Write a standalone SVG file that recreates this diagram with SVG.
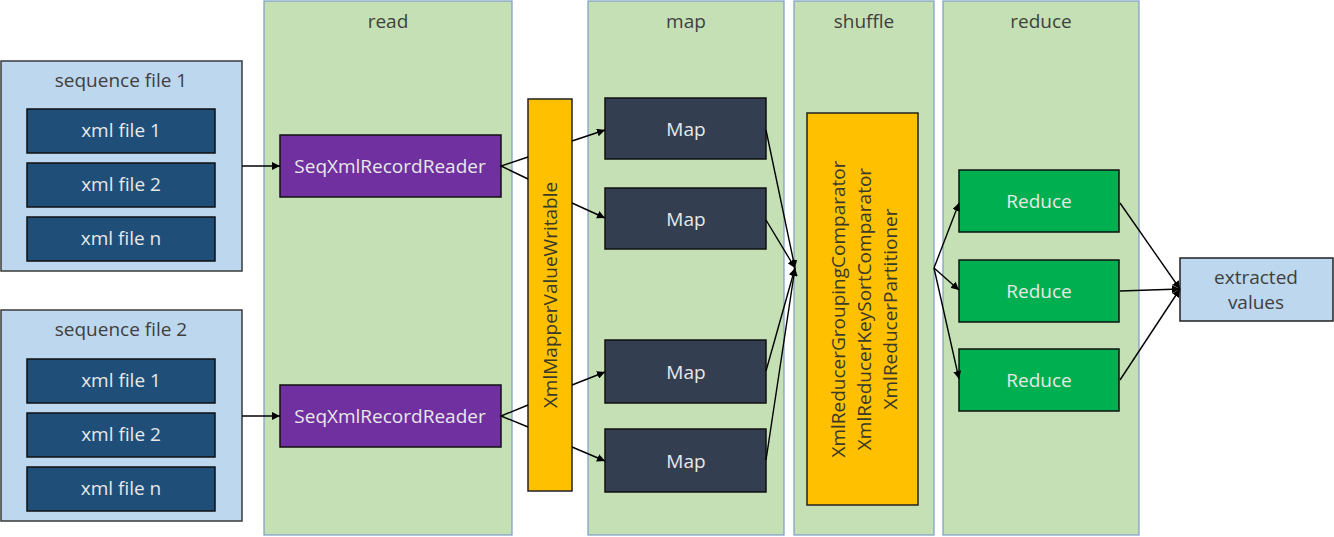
<svg xmlns="http://www.w3.org/2000/svg" width="1334" height="537" viewBox="0 0 1334 537">
<defs>
<style>
.col{fill:#c5e0b4;stroke:#7a9cc6;stroke-width:1.2}
.seq{fill:#bdd7ee;stroke:#3a3a3a;stroke-width:1.5}
.xml{fill:#1f4e79;stroke:#111;stroke-width:1.5}
.rdr{fill:#7030a0;stroke:#111;stroke-width:1.5}
.yel{fill:#ffc000;stroke:#222;stroke-width:1.5}
.map{fill:#333f50;stroke:#111;stroke-width:1.5}
.red{fill:#00b050;stroke:#111;stroke-width:1.5}
.ext{fill:#bdd7ee;stroke:#222;stroke-width:1.5}
text{font-family:"Open Sans","Noto Sans","DejaVu Sans",sans-serif;font-size:19px;text-anchor:middle;dominant-baseline:central}
.dk{fill:#404040}
.wt{fill:#e8e8e8}
.yt{fill:#3a3a2a}
.ln{stroke:#000;stroke-width:1.4;fill:none}
</style>
<marker id="ar" viewBox="0 0 10 10" refX="10" refY="5" markerWidth="8" markerHeight="8" markerUnits="userSpaceOnUse" orient="auto"><path d="M0,0L10,5L0,10z" fill="#000"/></marker>
</defs>
<rect width="1334" height="537" fill="#fff"/>
<g id="col-read"><rect class="col" x="264" y="1" width="248" height="534"/><text class="dk" x="388" y="21">read</text></g>
<g id="col-map"><rect class="col" x="588" y="1" width="196" height="534"/><text class="dk" x="686" y="21">map</text></g>
<g id="col-shuffle"><rect class="col" x="794" y="1" width="140" height="534"/><text class="dk" x="864" y="21">shuffle</text></g>
<g id="col-reduce"><rect class="col" x="943" y="1" width="196" height="534"/><text class="dk" x="1041" y="21">reduce</text></g>

<g id="seq1"><rect class="seq" x="1" y="61" width="241" height="210"/><text class="dk" x="121" y="80">sequence file 1</text>
<rect class="xml" x="27" y="109" width="188" height="44"/><text class="wt" x="121" y="130">xml file 1</text>
<rect class="xml" x="27" y="163" width="188" height="44"/><text class="wt" x="121" y="184">xml file 2</text>
<rect class="xml" x="27" y="217" width="188" height="44"/><text class="wt" x="121" y="238">xml file n</text></g>
<g id="seq2"><rect class="seq" x="1" y="310" width="241" height="211"/><text class="dk" x="121" y="329">sequence file 2</text>
<rect class="xml" x="27" y="359" width="188" height="44"/><text class="wt" x="121" y="380">xml file 1</text>
<rect class="xml" x="27" y="413" width="188" height="44"/><text class="wt" x="121" y="434">xml file 2</text>
<rect class="xml" x="27" y="467" width="188" height="44"/><text class="wt" x="121" y="488">xml file n</text></g>

<g id="reader1"><rect class="rdr" x="280" y="135" width="221" height="62"/><text class="wt" x="390" y="166">SeqXmlRecordReader</text></g>
<g id="reader2"><rect class="rdr" x="280" y="385" width="221" height="62"/><text class="wt" x="390" y="416">SeqXmlRecordReader</text></g>

<g id="writable"><rect class="yel" x="528" y="99" width="44" height="392"/><text class="yt" transform="translate(550,295) rotate(-90)">XmlMapperValueWritable</text></g>

<g id="map1"><rect class="map" x="605" y="98" width="161" height="61"/><text class="wt" x="686" y="129">Map</text></g>
<g id="map2"><rect class="map" x="605" y="188" width="161" height="61"/><text class="wt" x="686" y="219">Map</text></g>
<g id="map3"><rect class="map" x="605" y="340" width="161" height="63"/><text class="wt" x="686" y="372">Map</text></g>
<g id="map4"><rect class="map" x="605" y="429" width="161" height="63"/><text class="wt" x="686" y="461">Map</text></g>

<g id="shufflebox"><rect class="yel" x="807" y="113" width="111" height="392"/>
<text class="yt" transform="translate(838,309) rotate(-90)">XmlReducerGroupingComparator</text>
<text class="yt" transform="translate(864,309) rotate(-90)">XmlReducerKeySortComparator</text>
<text class="yt" transform="translate(890,309) rotate(-90)">XmlReducerPartitioner</text></g>

<g id="reduce1"><rect class="red" x="959" y="170" width="160" height="62"/><text class="wt" x="1039" y="201">Reduce</text></g>
<g id="reduce2"><rect class="red" x="959" y="260" width="160" height="62"/><text class="wt" x="1039" y="291">Reduce</text></g>
<g id="reduce3"><rect class="red" x="959" y="349" width="160" height="62"/><text class="wt" x="1039" y="380">Reduce</text></g>

<g id="extracted"><rect class="ext" x="1180" y="258" width="153" height="63"/><text class="dk" x="1256" y="277">extracted</text><text class="dk" x="1256" y="302">values</text></g>

<g id="connectors">
<line class="ln" x1="242" y1="166" x2="280" y2="166" marker-end="url(#ar)"/>
<line class="ln" x1="242" y1="416" x2="280" y2="416" marker-end="url(#ar)"/>
<polyline class="ln" points="528,157 501,166 528,179"/>
<polyline class="ln" points="528,405 501,416 528,427"/>
<line class="ln" x1="572" y1="141" x2="605" y2="130" marker-end="url(#ar)"/>
<line class="ln" x1="572" y1="203" x2="605" y2="218" marker-end="url(#ar)"/>
<line class="ln" x1="572" y1="385" x2="605" y2="372" marker-end="url(#ar)"/>
<line class="ln" x1="572" y1="447" x2="605" y2="461" marker-end="url(#ar)"/>
<line class="ln" x1="766" y1="130" x2="795" y2="268" marker-end="url(#ar)"/>
<line class="ln" x1="766" y1="220" x2="795" y2="268" marker-end="url(#ar)"/>
<line class="ln" x1="766" y1="371" x2="795" y2="268" marker-end="url(#ar)"/>
<line class="ln" x1="766" y1="460" x2="795" y2="268" marker-end="url(#ar)"/>
<line class="ln" x1="934" y1="268" x2="959" y2="203" marker-end="url(#ar)"/>
<line class="ln" x1="934" y1="268" x2="959" y2="290" marker-end="url(#ar)"/>
<line class="ln" x1="934" y1="268" x2="959" y2="379" marker-end="url(#ar)"/>
<line class="ln" x1="1120" y1="203" x2="1180" y2="289" marker-end="url(#ar)"/>
<line class="ln" x1="1120" y1="291" x2="1180" y2="289" marker-end="url(#ar)"/>
<line class="ln" x1="1120" y1="380" x2="1180" y2="289" marker-end="url(#ar)"/>
</g>
</svg>
